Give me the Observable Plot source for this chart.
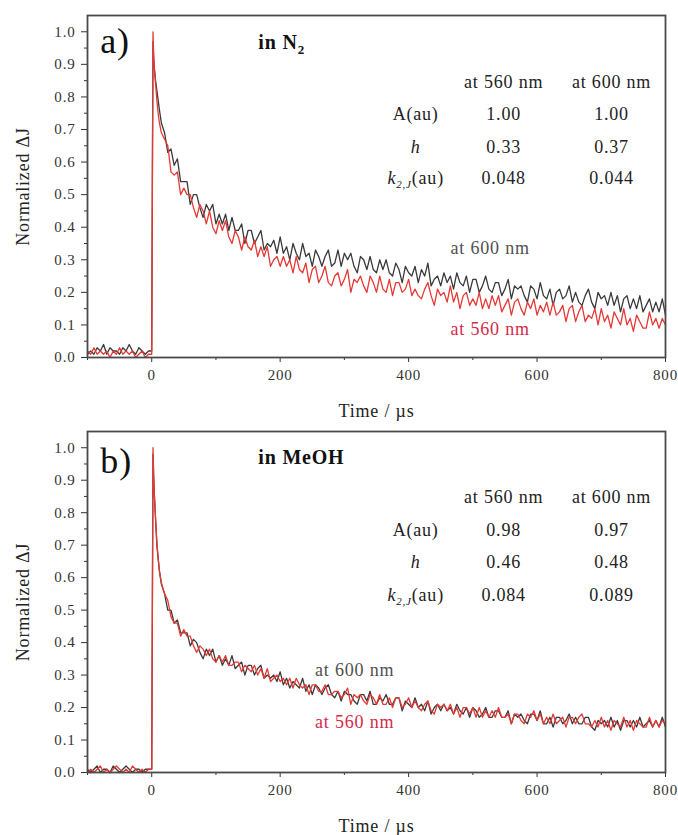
<!DOCTYPE html>
<html><head><meta charset="utf-8">
<script src="https://cdn.jsdelivr.net/npm/d3@7"></script>
<script src="https://cdn.jsdelivr.net/npm/@observablehq/plot@0.6"></script>
<style>
body{margin:0;background:#fff;}
#chart{width:678px;}
svg{display:block;}
svg, svg text, svg tspan{font-family:'Liberation Serif',serif !important;}
svg text{letter-spacing:0.8px;}
</style></head><body><div id="chart"></div>
<script>
// ---- sampling times (µs) ----
const timePre = [-100,-95,-90,-85,-80,-75,-70,-65,-60,-55,-50,-45,-40,-35,-30,-25,-20,-15,-10,-5];
const timeEarly = [0,1,2,3,4,6,8,10,12,15];
const timeMain = d3.range(20, 801, 5);
const time = [...timePre, ...timeEarly, ...timeMain];

// ---- panel a (in N2), normalized ΔJ ----
const a600 = [
 .01,.02,.01,.03,.02,.04,.01,.03,.02,.02,.01,.03,.02,.04,.02,.01,.03,.02,.01,.02,
 .02,.55,.97,.92,.89,.85,.82,.79,.76,.72,
 .69,.63,.64,.59,.61,.54,.54,.54,.47,.50,
 .50,.46,.43,.47,.45,.47,.41,.44,.41,.44,
 .39,.43,.39,.39,.41,.35,.39,.39,.35,.37,
 .39,.33,.35,.34,.36,.32,.37,.32,.34,.30,
 .35,.32,.30,.35,.31,.32,.28,.33,.31,.28,
 .31,.33,.28,.29,.33,.28,.32,.30,.32,.28,
 .26,.31,.30,.27,.31,.27,.26,.30,.27,.30,
 .26,.25,.29,.27,.23,.28,.26,.25,.28,.23,
 .27,.25,.29,.22,.24,.25,.22,.26,.23,.25,
 .21,.26,.23,.22,.25,.20,.24,.24,.20,.22,
 .25,.21,.20,.23,.23,.19,.21,.24,.18,.22,
 .21,.22,.19,.17,.22,.21,.18,.23,.19,.18,
 .21,.16,.20,.21,.18,.19,.22,.17,.20,.17,
 .16,.19,.21,.17,.15,.20,.18,.19,.16,.20,
 .16,.19,.14,.18,.19,.15,.18,.15,.19,.14,
 .16,.18,.14,.17,.14,.18,.13
];
const a560 = [
 .02,.01,.03,.01,.02,.01,.02,.00,.02,.01,.03,.01,.02,.01,.02,.00,.01,.02,.00,.01,
 .01,.50,1.0,.93,.89,.84,.79,.75,.72,.69,
 .67,.65,.57,.56,.57,.50,.52,.50,.50,.46,
 .43,.47,.45,.41,.45,.40,.38,.42,.39,.42,
 .37,.35,.39,.37,.33,.37,.34,.33,.36,.31,
 .34,.31,.34,.28,.30,.31,.28,.31,.28,.30,
 .26,.31,.27,.26,.29,.23,.27,.28,.23,.25,
 .28,.23,.22,.25,.26,.22,.24,.27,.20,.24,
 .23,.25,.22,.20,.25,.23,.20,.25,.21,.20,
 .24,.19,.23,.23,.20,.21,.24,.19,.21,.19,
 .18,.21,.23,.19,.16,.21,.19,.20,.17,.22,
 .17,.20,.15,.19,.20,.16,.18,.16,.20,.15,
 .18,.15,.19,.16,.19,.14,.16,.18,.13,.17,
 .18,.15,.13,.17,.15,.18,.13,.16,.14,.17,
 .13,.17,.13,.14,.16,.11,.15,.16,.11,.14,
 .16,.11,.13,.12,.15,.10,.15,.11,.13,.09,
 .14,.12,.10,.15,.10,.12,.08,.13,.11,.09,
 .09,.14,.10,.12,.09,.12,.10
];

// ---- panel b (in MeOH) ----
const b600 = [
 .01,.00,.01,.02,.00,.01,.01,.00,.02,.01,.00,.01,.02,.01,.00,.01,.01,.00,.01,.01,
 .01,.50,.98,.91,.86,.78,.70,.66,.62,.58,
 .55,.50,.50,.46,.47,.43,.43,.43,.39,.41,
 .40,.37,.35,.38,.36,.38,.34,.36,.33,.35,
 .33,.36,.32,.33,.34,.30,.33,.33,.30,.32,
 .33,.29,.30,.29,.30,.28,.31,.27,.29,.26,
 .28,.27,.26,.29,.25,.27,.24,.27,.26,.24,
 .26,.27,.24,.23,.25,.22,.25,.24,.24,.22,
 .21,.24,.24,.22,.25,.21,.21,.23,.22,.24,
 .21,.21,.23,.23,.19,.22,.21,.20,.23,.20,
 .21,.19,.22,.18,.20,.21,.19,.21,.19,.20,
 .18,.21,.19,.18,.20,.17,.20,.19,.17,.18,
 .20,.17,.17,.19,.19,.17,.17,.19,.15,.18,
 .17,.18,.16,.15,.18,.18,.16,.19,.15,.15,
 .17,.14,.17,.17,.15,.16,.18,.15,.17,.15,
 .15,.17,.17,.14,.13,.16,.15,.16,.14,.17,
 .14,.16,.13,.16,.16,.14,.16,.14,.17,.14,
 .15,.16,.14,.16,.14,.17,.14
];
const b560 = [
 .00,.01,.00,.01,.02,.00,.01,.00,.01,.02,.01,.00,.01,.00,.02,.01,.00,.01,.00,.01,
 .01,.50,1.0,.92,.86,.78,.71,.66,.62,.585,
 .55,.53,.48,.46,.46,.42,.44,.42,.42,.39,
 .37,.39,.38,.36,.38,.35,.34,.36,.34,.36,
 .33,.33,.34,.34,.31,.33,.32,.31,.33,.30,
 .32,.29,.32,.28,.29,.30,.28,.29,.27,.29,
 .26,.29,.27,.26,.27,.24,.27,.27,.25,.25,
 .27,.24,.24,.25,.25,.23,.24,.26,.21,.24,
 .23,.24,.22,.21,.24,.23,.21,.24,.21,.21,
 .23,.20,.23,.23,.20,.21,.23,.20,.22,.20,
 .19,.21,.22,.19,.18,.21,.20,.21,.19,.21,
 .18,.20,.17,.20,.20,.18,.20,.17,.20,.17,
 .19,.17,.19,.17,.20,.17,.17,.18,.15,.18,
 .18,.16,.15,.18,.17,.19,.16,.18,.15,.17,
 .15,.18,.15,.16,.17,.14,.17,.17,.15,.17,
 .18,.15,.15,.14,.16,.14,.17,.14,.16,.13,
 .16,.15,.14,.17,.14,.16,.13,.16,.15,.14,
 .14,.17,.14,.16,.14,.16,.15
];

// ---- table texts ----
const tableHeaders = ["at 560 nm", "at 600 nm"];
const tableRowLabels = ["A(au)", "h", "k2,J(au)"];
const aParams560 = ["1.00", "0.33", "0.048"];
const aParams600 = ["1.00", "0.37", "0.044"];
const bParams560 = ["0.98", "0.46", "0.084"];
const bParams600 = ["0.97", "0.48", "0.089"];
const seriesLabels = ["at 600 nm", "at 560 nm"];

// ---- axis ticks ----
const yMajor = [0,0.1,0.2,0.3,0.4,0.5,0.6,0.7,0.8,0.9,1.0];
const yMinor = [0.05,0.15,0.25,0.35,0.45,0.55,0.65,0.75,0.85,0.95];
const xMajor = [0,200,400,600,800];
const xMinor = [-100,100,300,500,700];

const FONT = "Liberation Serif";
const C600 = "#3a3a3a", C560 = "#e53935";

function panel(o) {
  const rows600 = time.map((t, i) => ({t, v: o.s600[i]}));
  const rows560 = time.map((t, i) => ({t, v: o.s560[i]}));
  const colX = [548, 716], rowLabelX = 411;
  const cells = [];
  tableHeaders.forEach((h, j) => cells.push({x: colX[j], y: o.rowY[0], s: h}));
  tableRowLabels.forEach((r, i) => cells.push({x: rowLabelX, y: o.rowY[i + 1], s: r}));
  o.p560.forEach((v, i) => cells.push({x: colX[0], y: o.rowY[i + 1], s: v}));
  o.p600.forEach((v, i) => cells.push({x: colX[1], y: o.rowY[i + 1], s: v}));
  const T = {fontFamily: FONT};
  const svg = Plot.plot({
    width: 678, height: o.height,
    marginTop: o.mt, marginBottom: o.mb, marginLeft: 87, marginRight: 13,
    x: {domain: [-100, 800]},
    y: {domain: [0, 1.05]},
    style: {fontFamily: FONT, fontSize: "15px", color: "#333", background: "#fff", overflow: "visible"},
    marks: [
      Plot.axisY({...T, ticks: yMajor, tickSize: 6, tickPadding: 6, tickFormat: d3.format(".1f"), label: null, fontSize: 15}),
      Plot.axisY({ticks: yMinor, tickSize: 3, tickFormat: () => "", label: null}),
      Plot.axisX({...T, ticks: xMajor, tickSize: 5, tickPadding: 7, tickFormat: d => String(d), label: null, fontSize: 15}),
      Plot.axisX({ticks: xMinor, tickSize: 3, tickFormat: () => "", label: null}),
      Plot.line(rows600, {x: "t", y: "v", stroke: C600, strokeWidth: 1.3}),
      Plot.line(rows560, {x: "t", y: "v", stroke: C560, strokeWidth: 1.3}),
      Plot.frame({stroke: "#4a4a4a", strokeWidth: 1.8}),
      Plot.text([o.letter], {...T, x: () => -80, y: () => o.letterY, text: d => d, textAnchor: "start", lineAnchor: "bottom", fontSize: 36, fill: "#111"}),
      Plot.text([o.solvent], {...T, x: () => 166, y: () => o.solventY, text: d => d, textAnchor: "start", lineAnchor: "bottom", fontSize: 20, fontWeight: "bold", fill: "#111"}),
      Plot.text(cells, {...T, x: "x", y: "y", text: "s", textAnchor: "middle", lineAnchor: "bottom", fontSize: 18, fill: "#222"}),
      Plot.text([seriesLabels[0]], {...T, x: () => o.lab600[0], y: () => o.lab600[1], text: d => d, lineAnchor: "bottom", fontSize: 18, fill: "#505050"}),
      Plot.text([seriesLabels[1]], {...T, x: () => o.lab560[0], y: () => o.lab560[1], text: d => d, lineAnchor: "bottom", fontSize: 18, fill: "#d42a48"}),
      Plot.text(["Time / µs"], {...T, frameAnchor: "bottom", dy: 59, lineAnchor: "bottom", text: d => d, fontSize: 18, fill: "#222"}),
      Plot.text(["Normalized ΔJ"], {...T, frameAnchor: "left", dx: -64, rotate: -90, textAnchor: "middle", lineAnchor: "middle", text: d => d, fontSize: 18, fill: "#222"})
    ]
  });
  decorate(svg);
  return svg;
}

function decorate(svg) {
  const ns = "http://www.w3.org/2000/svg";
  const ts = (txt, attrs) => { const t = document.createElementNS(ns, "tspan"); t.textContent = txt; for (const k in attrs) t.setAttribute(k, attrs[k]); return t; };
  svg.querySelectorAll("text").forEach(el => {
    const s = el.textContent;
    if (s === "h") el.setAttribute("font-style", "italic");
    else if (s === "k2,J(au)") {
      el.textContent = "";
      el.append(ts("k", {"font-style": "italic"}), ts("2,J", {"font-style": "italic", "font-size": "11", dy: "4"}), ts("(au)", {dy: "-4"}));
    } else if (s === "in N2") {
      el.textContent = "";
      el.append(ts("in N", {}), ts("2", {"font-size": "13", dy: "5"}));
    }
  });
}

const chart = document.getElementById("chart");
chart.append(panel({
  height: 421, mt: 15, mb: 64, s600: a600, s560: a560, letter: "a)", letterY: 0.936,
  solvent: "in N2", solventY: 0.946, rowY: [0.826, 0.728, 0.629, 0.534],
  p560: aParams560, p600: aParams600, lab600: [527, 0.319], lab560: [527, 0.068]
}));
chart.append(panel({
  height: 414, mt: 10, mb: 63, s600: b600, s560: b560, letter: "b)", letterY: 0.923,
  solvent: "in MeOH", solventY: 0.951, rowY: [0.831, 0.729, 0.631, 0.529],
  p560: bParams560, p600: bParams600, lab600: [316, 0.298], lab560: [316, 0.138]
}));
</script></body></html>
